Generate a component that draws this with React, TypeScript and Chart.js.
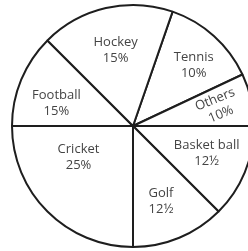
import React, { useEffect, useRef } from "react";
import { Chart, registerables } from "chart.js";

Chart.register(...registerables);

// Sports (clockwise from the top-right)
const categories = ["Tennis", "Others", "Basket ball", "Golf", "Cricket", "Football", "Hockey"];
const shareLabels = ["10%", "10%", "12½", "12½", "25%", "15%", "15%"];
// Slice sizes as drawn in the picture (degrees of the circle)
const sliceDegrees = [45.7, 25.2, 45, 45, 90, 45, 64.1];

// label placement style (fraction of radius, angle shift in degrees, text rotation)
const labelRadius = [0.71, 0.72, 0.65, 0.66, 0.52, 0.66, 0.64];
const labelShift = [3, 0, -2, 2, 15, -6, 0];
const labelRotate = [0, -22, 0, 0, 0, 0, 0];

const FONT = "13px 'Open Sans', sans-serif";

const labelPlugin = {
  id: "sliceLabels",
  afterDatasetsDraw(chart: any) {
    const ctx = chart.ctx;
    const meta = chart.getDatasetMeta(0);
    ctx.save();
    ctx.font = FONT;
    ctx.fillStyle = "#444444";
    ctx.textAlign = "center";
    ctx.textBaseline = "middle";
    meta.data.forEach((arc: any, i: number) => {
      const p = arc.getProps(["x", "y", "startAngle", "endAngle", "outerRadius"], true);
      const mid = (p.startAngle + p.endAngle) / 2 + (labelShift[i] * Math.PI) / 180;
      const r = p.outerRadius * labelRadius[i];
      const x = p.x + Math.cos(mid) * r;
      const y = p.y + Math.sin(mid) * r;
      ctx.save();
      ctx.translate(x, y);
      ctx.rotate((labelRotate[i] * Math.PI) / 180);
      ctx.fillText(categories[i], 0, -8);
      ctx.fillText(shareLabels[i], 0, 8);
      ctx.restore();
    });
    ctx.restore();
  },
};

export default function App() {
  const ref = useRef<HTMLCanvasElement>(null);
  useEffect(() => {
    document.body.style.margin = "0";
    const chart = new Chart(ref.current!, {
      type: "pie",
      data: {
        labels: categories,
        datasets: [
          {
            data: sliceDegrees,
            backgroundColor: "#ffffff",
            borderColor: "#1e1e1e",
            borderWidth: 2,
          },
        ],
      },
      options: {
        responsive: false,
        animation: false,
        rotation: 19.1,
        layout: { padding: { left: 11, right: 11, top: 4, bottom: 3 } },
        plugins: { legend: { display: false }, tooltip: { enabled: false } },
      },
      plugins: [labelPlugin],
    });
    return () => chart.destroy();
  }, []);
  return (
    <div style={{ width: 248, height: 251, overflow: "hidden", position: "relative", background: "#fff" }}>
      <canvas ref={ref} width={266} height={251} style={{ display: "block" }} />
    </div>
  );
}
